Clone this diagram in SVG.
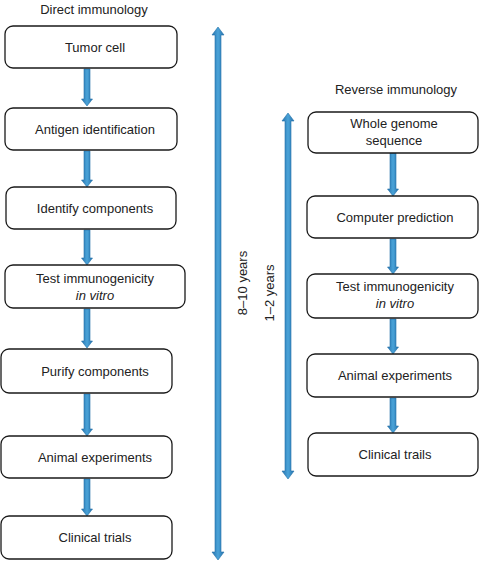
<svg xmlns="http://www.w3.org/2000/svg" width="480" height="565" viewBox="0 0 480 565">
<style>
.box{fill:#fff;stroke:#1a1a1a;stroke-width:1.3}
.t{font-family:"Liberation Sans",Arial,sans-serif;font-size:13px;fill:#222;text-anchor:middle}
.i{font-style:italic}
.arr{fill:url(#g);stroke:#2470a8;stroke-width:0.6}
</style>
<defs>
<linearGradient id="g" x1="0" y1="0" x2="1" y2="0">
<stop offset="0" stop-color="#2672ad"/>
<stop offset="0.5" stop-color="#4aa3d8"/>
<stop offset="1" stop-color="#2672ad"/>
</linearGradient>
</defs>
<rect width="480" height="565" fill="#fff"/>
<text class="t" x="94" y="14">Direct immunology</text>
<text class="t" x="396" y="94">Reverse immunology</text>

<g id="connectors">
<polygon class="arr" points="84,69 90,69 90,99 92.5,99 87,106 81.5,99 84,99"/>
<polygon class="arr" points="84,151 90,151 90,180 92.5,180 87,187 81.5,180 84,180"/>
<polygon class="arr" points="84,230 90,230 90,258 92.5,258 87,265 81.5,258 84,258"/>
<polygon class="arr" points="84,309 90,309 90,341 92.5,341 87,348 81.5,341 84,341"/>
<polygon class="arr" points="84,394 90,394 90,429 92.5,429 87,436 81.5,429 84,429"/>
<polygon class="arr" points="84,479 90,479 90,509 92.5,509 87,516 81.5,509 84,509"/>
<polygon class="arr" points="390,153 396,153 396,189 398.5,189 393,196 387.5,189 390,189"/>
<polygon class="arr" points="390,239 396,239 396,267 398.5,267 393,274 387.5,267 390,267"/>
<polygon class="arr" points="390,319 396,319 396,347 398.5,347 393,354 387.5,347 390,347"/>
<polygon class="arr" points="390,398 396,398 396,426 398.5,426 393,433 387.5,426 390,426"/>
<polygon class="arr" points="218,27 224,35 221,35 221,552 224,552 218,560 212,552 215,552 215,35 212,35"/>
<polygon class="arr" points="288,113 294,121 291,121 291,471 294,471 288,479 282,471 285,471 285,121 282,121"/>
<text class="t" transform="translate(247,283) rotate(-90)">8–10 years</text>
<text class="t" transform="translate(274,293) rotate(-90)">1–2 years</text>
</g>

<g id="n1"><rect class="box" x="5" y="26" width="172" height="42" rx="8"/><text class="t" x="95" y="52">Tumor cell</text></g>
<g id="n2"><rect class="box" x="5" y="108" width="172" height="42" rx="8"/><text class="t" x="95" y="134">Antigen identification</text></g>
<g id="n3"><rect class="box" x="6" y="187" width="170" height="42" rx="8"/><text class="t" x="95" y="213">Identify components</text></g>
<g id="n4"><rect class="box" x="5" y="265" width="180" height="43" rx="8"/><text class="t" x="95" y="283">Test immunogenicity</text><text class="t i" x="95" y="300">in vitro</text></g>
<g id="n5"><rect class="box" x="1" y="349" width="171" height="44" rx="8"/><text class="t" x="95" y="376">Purify components</text></g>
<g id="n6"><rect class="box" x="1" y="436" width="171" height="42" rx="8"/><text class="t" x="95" y="462">Animal experiments</text></g>
<g id="n7"><rect class="box" x="1" y="516" width="171" height="43" rx="8"/><text class="t" x="95" y="542">Clinical trials</text></g>

<g id="r1"><rect class="box" x="308" y="112" width="170" height="41" rx="8"/><text class="t" x="394" y="128">Whole genome</text><text class="t" x="394" y="145">sequence</text></g>
<g id="r2"><rect class="box" x="307" y="196" width="171" height="42" rx="8"/><text class="t" x="395" y="222">Computer prediction</text></g>
<g id="r3"><rect class="box" x="307" y="274" width="171" height="44" rx="8"/><text class="t" x="395" y="291">Test immunogenicity</text><text class="t i" x="395" y="308">in vitro</text></g>
<g id="r4"><rect class="box" x="307" y="354" width="171" height="43" rx="8"/><text class="t" x="395" y="380">Animal experiments</text></g>
<g id="r5"><rect class="box" x="308" y="433" width="170" height="43" rx="8"/><text class="t" x="395" y="459">Clinical trails</text></g>
</svg>
